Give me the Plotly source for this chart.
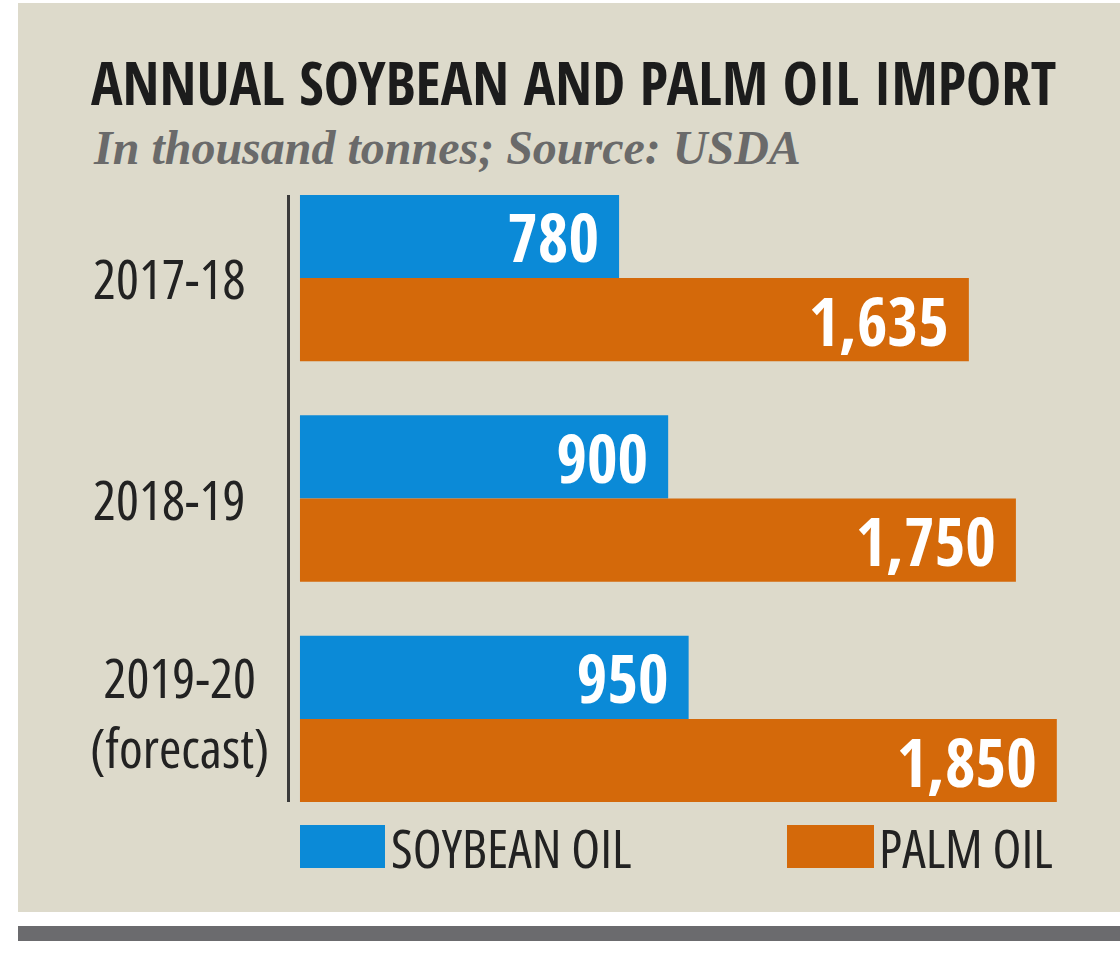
import plotly.graph_objects as go

# ---- data ----
years = ["2017-18", "2018-19", "2019-20"]
year_labels = [["2017-18"], ["2018-19"], ["2019-20", "(forecast)"]]
soybean_oil = [780, 900, 950]
palm_oil = [1635, 1750, 1850]
series_names = ["SOYBEAN OIL", "PALM OIL"]
title_text = "ANNUAL SOYBEAN AND PALM OIL IMPORT"
subtitle_text = "In thousand tonnes; Source: USDA"

# ---- style ----
W, H = 1120, 977
BLUE = "#0b8ad7"
ORANGE = "#d4690a"
PANEL = "#dddacb"
COND = "Open Sans Condensed, Roboto Condensed, DejaVu Sans Condensed, sans-serif"
SANS = "Open Sans, Roboto, DejaVu Sans Condensed, sans-serif"
SERIF = "Liberation Serif, DejaVu Serif, serif"
LABEL_CENTER_PX = [169, 169, 179]
LABEL_YSHIFT = [0, 0, 7]

def px_x(p):
    return p / W

def px_y(p):
    return 1 - p / H

def cond(s):
    return f"<span style='font-stretch:condensed'>{s}</span>"

fig = go.Figure()
for vals, name, color in [(soybean_oil, series_names[0], BLUE), (palm_oil, series_names[1], ORANGE)]:
    fig.add_trace(go.Bar(
        y=years, x=vals, orientation="h", name=name,
        marker=dict(color=color, line=dict(width=0)),
        texttemplate="%{x:,}\u00a0", textposition="inside", insidetextanchor="end",
        textfont=dict(family=COND, size=66, color="white", weight="bold"),
        constraintext="none", hoverinfo="skip",
    ))

shapes = [
    dict(type="rect", xref="paper", yref="paper", x0=px_x(18), x1=1.0,
         y0=px_y(912), y1=px_y(3), fillcolor=PANEL, line=dict(width=0), layer="below"),
    dict(type="rect", xref="paper", yref="paper", x0=px_x(18), x1=1.0,
         y0=px_y(941), y1=px_y(926), fillcolor="#6b6b6e", line=dict(width=0), layer="below"),
    dict(type="rect", xref="paper", yref="paper", x0=px_x(300), x1=px_x(385),
         y0=px_y(868), y1=px_y(825), fillcolor=BLUE, line=dict(width=0)),
    dict(type="rect", xref="paper", yref="paper", x0=px_x(787), x1=px_x(874),
         y0=px_y(868), y1=px_y(825), fillcolor=ORANGE, line=dict(width=0)),
]

annotations = [
    dict(text=subtitle_text, xref="paper", yref="paper", x=px_x(91), y=px_y(148),
         xanchor="left", yanchor="middle", showarrow=False,
         font=dict(family=SERIF, size=48, color="#6a6a6a", style="italic", weight="bold")),
    dict(text=cond(series_names[0]), xref="paper", yref="paper", x=px_x(389), y=px_y(847),
         xanchor="left", yanchor="middle", showarrow=False,
         font=dict(family=SANS, size=53, color="#222222")),
    dict(text=cond(series_names[1]), xref="paper", yref="paper", x=px_x(877), y=px_y(847),
         xanchor="left", yanchor="middle", showarrow=False,
         font=dict(family=SANS, size=53, color="#222222")),
]
for cat, lines, cx, ys in zip(years, year_labels, LABEL_CENTER_PX, LABEL_YSHIFT):
    annotations.append(dict(text="<br>".join(cond(l) for l in lines), xref="paper", yref="y",
                            x=px_x(cx), y=cat, yshift=ys, xanchor="center",
                            yanchor="middle", align="center", showarrow=False,
                            font=dict(family=SANS, size=54, color="#222222")))

fig.update_layout(
    width=W, height=H, autosize=False,
    margin=dict(l=0, r=0, t=0, b=0),
    paper_bgcolor="white", plot_bgcolor="rgba(0,0,0,0)",
    barmode="group", bargap=0.245, bargroupgap=0,
    showlegend=False,
    title=dict(text=title_text, x=px_x(91), y=px_y(84), xanchor="left", yanchor="middle",
               xref="paper", yref="paper",
               font=dict(family=COND, size=59, color="#1c1c1c", weight="bold")),
    xaxis=dict(domain=[px_x(290), px_x(1110)], range=[-24.4, 1980], visible=False,
               showgrid=False, zeroline=False, fixedrange=True),
    yaxis=dict(domain=[px_y(802), px_y(195)], type="category", categoryorder="array",
               categoryarray=years, range=[2.377, -0.377], showticklabels=False,
               showgrid=False, zeroline=False, showline=True, linecolor="#3a3a3a",
               linewidth=3, ticks="", fixedrange=True),
    shapes=shapes, annotations=annotations,
)

fig.write_html("out.html")
